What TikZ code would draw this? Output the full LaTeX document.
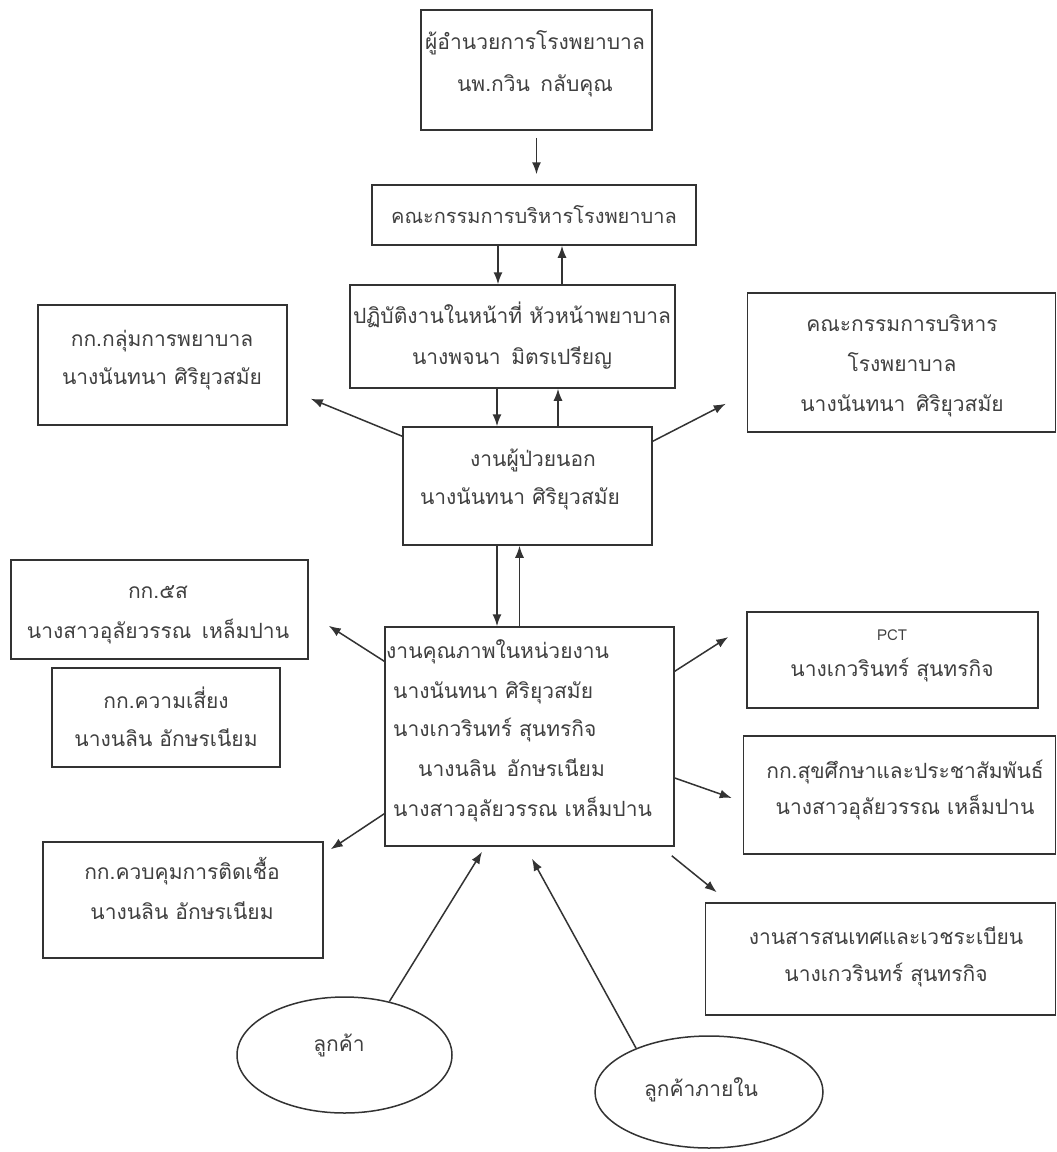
\documentclass[tikz,border=0pt]{standalone}
\usepackage{fontspec}
\newfontfamily\thaifont[Script=Thai]{Loma}
\usetikzlibrary{arrows.meta,shapes.geometric}
\definecolor{linec}{HTML}{333333}
\definecolor{txtc}{HTML}{404040}
\begin{document}
\begin{tikzpicture}[x=1pt,y=-1pt,
  box/.style={draw=linec, line width=1.5pt, rectangle, inner sep=0pt},
  oval/.style={draw=linec, line width=1.5pt, ellipse, inner sep=0pt},
  txt/.style={text=txtc, font=\thaifont\fontsize{21}{25}\selectfont, inner sep=0pt, anchor=base},
  txtl/.style={txt, anchor=base west},
  small/.style={txt, font=\thaifont\fontsize{15}{17}\selectfont},
  arr/.style={draw=linec, line width=1.5pt, -{Latex[length=12pt,width=9pt]}}]
\useasboundingbox[fill=white] (0,0) rectangle (1057,1152);

% boxes
\node[box, minimum width=231, minimum height=120] (b1) at (536.5,70) {};
\node[box, minimum width=324, minimum height=60] (b2) at (534,215) {};
\node[box, minimum width=325, minimum height=103] (b3) at (512.5,336.5) {};
\node[box, minimum width=249, minimum height=118] (b4) at (527.5,486) {};
\node[box, minimum width=249, minimum height=120] (b5) at (162.5,365) {};
\node[box, minimum width=308, minimum height=139] (b6) at (901.5,362.5) {};
\node[box, minimum width=297, minimum height=99] (b7) at (159.5,609.5) {};
\node[box, minimum width=289, minimum height=219] (b8) at (529.5,736.5) {};
\node[box, minimum width=228, minimum height=99] (b9) at (166,717.5) {};
\node[box, minimum width=280, minimum height=116] (b10) at (183,900) {};
\node[box, minimum width=291, minimum height=96] (b11) at (892.5,660) {};
\node[box, minimum width=312, minimum height=118] (b12) at (899.5,795) {};
\node[box, minimum width=350, minimum height=112] (b13) at (880.5,959) {};
\node[oval, minimum width=215, minimum height=116] (e1) at (344.5,1055) {};
\node[oval, minimum width=228, minimum height=112] (e2) at (709,1092) {};

% texts
\node[txt] (t1a) at (535,49) {ผู้อำนวยการโรงพยาบาล};
\node[txt] (t1b) at (535,91) {นพ.กวิน\hspace{0.5em}กลับคุณ};
\node[txt, font=\thaifont\fontsize{20}{24}\selectfont] (t2) at (534,223) {คณะกรรมการบริหารโรงพยาบาล};
\node[txt] (t3a) at (512,323) {ปฏิบัติงานในหน้าที่ หัวหน้าพยาบาล};
\node[txt] (t3b) at (512,364) {นางพจนา\hspace{0.5em}มิตรเปรียญ};
\node[txt] (t4a) at (533,466) {งานผู้ป่วยนอก};
\node[txt] (t4b) at (520,504) {นางนันทนา ศิริยุวสมัย};
\node[txt] (t5a) at (162,346) {กก.กลุ่มการพยาบาล};
\node[txt] (t5b) at (162,384) {นางนันทนา ศิริยุวสมัย};
\node[txt] (t6a) at (902,331) {คณะกรรมการบริหาร};
\node[txt] (t6b) at (902,371) {โรงพยาบาล};
\node[txt] (t6c) at (902,411) {นางนันทนา\hspace{0.5em}ศิริยุวสมัย};
\node[txt] (t7a) at (158,598) {กก.๕ส};
\node[txt] (t7b) at (158,638) {นางสาวอุลัยวรรณ\hspace{0.5em}เหล็มปาน};
\node[txtl] (t8a) at (386,658) {งานคุณภาพในหน่วยงาน};
\node[txtl] (t8b) at (393,698) {นางนันทนา ศิริยุวสมัย};
\node[txtl] (t8c) at (393,736) {นางเกวรินทร์ สุนทรกิจ};
\node[txtl] (t8d) at (418,776) {นางนลิน\hspace{0.5em}อักษรเนียม};
\node[txtl] (t8e) at (393,816) {นางสาวอุลัยวรรณ เหล็มปาน};
\node[txt] (t9a) at (166,708) {กก.ความเสี่ยง};
\node[txt] (t9b) at (166,746) {นางนลิน อักษรเนียม};
\node[txt] (t10a) at (182,879) {กก.ควบคุมการติดเชื้อ};
\node[txt] (t10b) at (182,919) {นางนลิน อักษรเนียม};
\node[small] (t11a) at (892,640) {PCT};
\node[txt] (t11b) at (892,676) {นางเกวรินทร์ สุนทรกิจ};
\node[txt] (t12a) at (905,778) {กก.สุขศึกษาและประชาสัมพันธ์};
\node[txt] (t12b) at (905,814) {นางสาวอุลัยวรรณ เหล็มปาน};
\node[txt] (t13a) at (886,944) {งานสารสนเทศและเวชระเบียน};
\node[txt] (t13b) at (886,981) {นางเกวรินทร์ สุนทรกิจ};
\node[txt] (te1) at (339,1051) {ลูกค้า};
\node[txt] (te2) at (701,1096) {ลูกค้าภายใน};

% vertical arrows
\draw[arr] ([yshift=-7pt]b1.south) -- ([yshift=10pt]b1.south |- b2.north);
\draw[arr] ([xshift=-36pt]b2.south) -- ([xshift=-36pt]b2.south |- b3.north);
\draw[arr] ([xshift=28pt]b2.south |- b3.north) -- ([xshift=28pt]b2.south);
\draw[arr] ([xshift=-15.5pt]b3.south) -- ([xshift=-15.5pt]b3.south |- b4.north);
\draw[arr] ([xshift=45.5pt]b3.south |- b4.north) -- ([xshift=45.5pt]b3.south);
\draw[arr] ([xshift=-30.5pt]b4.south) -- ([xshift=-30.5pt]b4.south |- b8.north);
\draw[arr] ([xshift=-10pt]b8.north) -- ([xshift=-10pt]b8.north |- b4.south);

% radial arrows
\draw[arr] ([yshift=-10pt]b4.north west) -- ([xshift=23pt,yshift=27pt]b5.south east);
\draw[arr] ([yshift=-15pt]b4.north east) -- ([xshift=-21pt,yshift=29pt]b6.south west);
\draw[arr] ([yshift=-35pt]b8.north west) -- ([xshift=20pt,yshift=34pt]b7.south east);
\draw[arr] ([yshift=33pt]b8.south west) -- ([xshift=7pt,yshift=-8pt]b10.north east);
\draw[arr] ([yshift=-45pt]b8.north east) -- ([xshift=-18pt,yshift=23pt]b11.west);
\draw[arr] ([yshift=-41.5pt]b8.east) -- ([xshift=-11pt,yshift=-3pt]b12.west);
\draw[arr] ([xshift=-3pt,yshift=-9pt]b8.south east) -- ([xshift=12pt,yshift=10pt]b13.north west);
\draw[arr] (e1.50) -- ([xshift=-47.5pt,yshift=-5pt]b8.south);
\draw[arr] (e2.149) -- ([xshift=2.5pt,yshift=-12pt]b8.south);
\end{tikzpicture}
\end{document}
